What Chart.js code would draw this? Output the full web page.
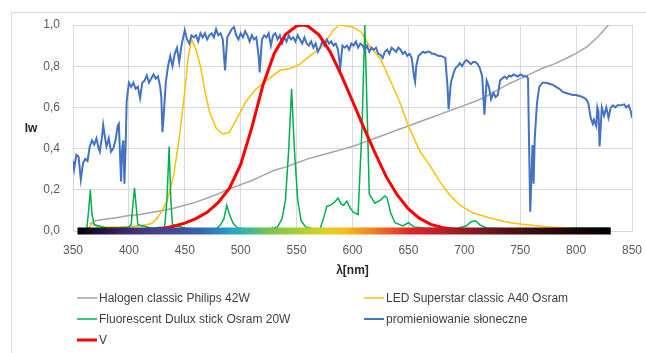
<!DOCTYPE html>
<html>
<head>
<meta charset="utf-8">
<script src="https://cdn.jsdelivr.net/npm/chart.js@4.4.1/dist/chart.umd.min.js"></script>
<style>
  html, body { margin: 0; padding: 0; background: #fff; overflow: hidden; }
  #wrap { position: relative; width: 646px; height: 353px; }
  #frame { position: absolute; left: 11px; top: 12px; width: 700px; height: 400px; border: 1px solid #d9d9d9; }
  #myChart { position: absolute; left: 0; top: 0; }
</style>
</head>
<body>
<div id="wrap">
  <div id="frame"></div>
  <canvas id="myChart" width="646" height="353"></canvas>
</div>
<script>
// wavelengths [nm] and relative intensities for each source
const halogenNm = [365, 370, 380, 390, 400, 410, 420, 430, 440, 450, 460, 470, 480, 490, 500, 510, 520, 530, 540, 550,
  560, 570, 580, 590, 600, 610, 620, 630, 640, 650, 660, 670, 680, 690, 700, 710, 720, 730, 740, 750,
  760, 770, 780, 790, 800, 810, 820, 829];
const halogenIw = [0.035, 0.05, 0.058, 0.066, 0.075, 0.08, 0.09, 0.1, 0.11, 0.125, 0.14, 0.16, 0.18, 0.205, 0.225, 0.245, 0.27, 0.295, 0.31, 0.33,
  0.35, 0.365, 0.38, 0.395, 0.41, 0.43, 0.45, 0.47, 0.49, 0.51, 0.53, 0.55, 0.57, 0.59, 0.61, 0.63, 0.655, 0.685, 0.715, 0.74,
  0.765, 0.79, 0.81, 0.835, 0.862, 0.895, 0.945, 1.0];

const ledNm = [360, 365, 368, 372, 380, 390, 400, 410, 415, 420, 425, 430, 435, 440, 445, 450, 453, 456, 460, 464,
  468, 472, 478, 484, 490, 497, 505, 513, 523, 535, 545, 553, 562, 574, 582, 588, 595, 600, 608, 615,
  625, 633, 642, 650, 660, 669, 678, 687, 696, 708, 723, 741, 750, 775, 800, 830];
const ledIw = [0.0, 0.02, 0.04, 0.02, 0.02, 0.02, 0.02, 0.025, 0.03, 0.035, 0.06, 0.1, 0.16, 0.27, 0.45, 0.68, 0.84, 0.93, 0.88, 0.8,
  0.68, 0.58, 0.5, 0.47, 0.48, 0.55, 0.63, 0.685, 0.73, 0.78, 0.79, 0.81, 0.85, 0.9, 0.97, 1.0, 0.995, 0.99, 0.965, 0.9,
  0.835, 0.74, 0.63, 0.51, 0.39, 0.32, 0.24, 0.175, 0.126, 0.087, 0.063, 0.04, 0.034, 0.02, 0.012, 0.01];

const fluoNm = [360, 362.5, 364, 365.5, 367, 369, 380, 390, 400, 402, 403.5, 405, 406.5, 408, 420, 432, 434, 436, 437.5, 439,
  450, 460, 470, 478, 482, 485, 487.5, 490, 493, 497, 505, 515, 525, 533, 537, 540, 543, 545.5, 548, 551,
  554, 558, 566, 571, 574, 577, 580, 584, 587, 590, 592, 595, 598, 601, 605, 608.5, 611, 613, 615, 620,
  625, 629, 631, 634, 638, 645, 650, 655, 665, 680, 695, 702, 706, 710, 714, 720, 740, 760, 780, 800, 830];
const fluoIw = [0.0, 0.02, 0.1, 0.2, 0.08, 0.03, 0.015, 0.015, 0.02, 0.03, 0.12, 0.21, 0.12, 0.03, 0.015, 0.02, 0.15, 0.41, 0.15, 0.03,
  0.015, 0.01, 0.01, 0.01, 0.03, 0.06, 0.125, 0.08, 0.04, 0.015, 0.01, 0.01, 0.01, 0.02, 0.06, 0.15, 0.4, 0.69, 0.4, 0.15,
  0.05, 0.02, 0.01, 0.01, 0.06, 0.12, 0.125, 0.14, 0.16, 0.13, 0.125, 0.145, 0.11, 0.09, 0.08, 0.5, 1.0, 0.6, 0.18, 0.135,
  0.15, 0.17, 0.16, 0.09, 0.04, 0.025, 0.04, 0.02, 0.015, 0.01, 0.015, 0.025, 0.045, 0.05, 0.03, 0.015, 0.01, 0.01, 0.01, 0.015, 0.015];

const sunNm = [350, 351, 353, 355, 357, 359, 361, 363, 365, 367, 369, 371, 373, 374, 376, 377, 379, 380, 382, 384,
  386, 388, 390, 391, 393, 394, 395, 396, 397, 398, 400, 402, 404, 406, 408, 410, 412, 414, 416, 418,
  420, 422, 424, 426, 428, 429, 430, 431, 433, 435, 437, 439, 441, 443, 445, 447, 449, 450, 452, 454,
  456, 458, 460, 462, 464, 466, 468, 470, 472, 474, 476, 478, 480, 482, 484, 486, 488, 490, 492, 494,
  496, 498, 500, 502, 504, 506, 508, 510, 512, 514, 516, 517, 519, 521, 523, 525, 527, 529, 531, 533,
  535, 537, 539, 541, 543, 545, 547, 549, 551, 553, 555, 557, 559, 561, 563, 565, 567, 569, 571, 573,
  575, 577, 579, 581, 583, 585, 587, 589, 591, 593, 595, 597, 599, 601, 603, 605, 607, 609, 611, 613,
  615, 617, 619, 621, 623, 625, 627, 629, 631, 633, 635, 637, 639, 641, 643, 645, 647, 649, 651, 653,
  655, 656, 657, 659, 661, 663, 665, 667, 669, 671, 673, 675, 677, 679, 681, 683, 685, 686, 688, 690,
  692, 694, 696, 698, 700, 702, 704, 706, 708, 710, 712, 714, 716, 718, 720, 722, 724, 726, 728, 730,
  732, 734, 736, 738, 740, 742, 744, 746, 748, 750, 752, 754, 756, 757, 758, 759, 760, 761, 762, 763,
  765, 767, 770, 773, 776, 779, 782, 785, 788, 791, 794, 797, 800, 803, 806, 809, 811, 813, 815, 816,
  818, 819, 820, 821, 823, 825, 827, 829, 831, 833, 835, 837, 840, 843, 845, 847, 849, 850];
const sunIw = [0.34, 0.3, 0.37, 0.36, 0.25, 0.33, 0.35, 0.34, 0.41, 0.44, 0.42, 0.45, 0.4, 0.385, 0.46, 0.515, 0.44, 0.41, 0.45, 0.385,
  0.4, 0.44, 0.51, 0.52, 0.24, 0.4, 0.44, 0.23, 0.4, 0.63, 0.72, 0.7, 0.72, 0.69, 0.7, 0.645, 0.72, 0.73, 0.755, 0.72,
  0.74, 0.76, 0.74, 0.75, 0.7, 0.65, 0.48, 0.55, 0.72, 0.8, 0.85, 0.8, 0.86, 0.89, 0.82, 0.9, 0.95, 0.975, 0.93, 0.91,
  0.95, 0.94, 0.95, 0.92, 0.96, 0.94, 0.96, 0.93, 0.95, 0.96, 0.94, 0.98, 0.95, 0.96, 0.93, 0.78, 0.94, 0.96, 0.98, 0.99,
  0.95, 0.93, 0.96, 0.94, 0.97, 0.95, 0.92, 0.95, 0.93, 0.94, 0.85, 0.77, 0.93, 0.95, 0.94, 0.96, 0.9, 0.95, 0.96, 0.93,
  0.95, 0.91, 0.94, 0.92, 0.95, 0.93, 0.94, 0.92, 0.95, 0.93, 0.91, 0.94, 0.91, 0.9, 0.92, 0.89, 0.91, 0.87, 0.89, 0.92,
  0.9, 0.93, 0.91, 0.92, 0.9, 0.91, 0.88, 0.79, 0.9, 0.89, 0.9, 0.88, 0.91, 0.9, 0.92, 0.89, 0.91, 0.9, 0.88, 0.9,
  0.87, 0.89, 0.88, 0.89, 0.86, 0.855, 0.84, 0.87, 0.88, 0.86, 0.89, 0.88, 0.87, 0.89, 0.88, 0.86, 0.87, 0.85, 0.86, 0.84,
  0.75, 0.725, 0.8, 0.85, 0.86, 0.87, 0.865, 0.87, 0.87, 0.86, 0.86, 0.855, 0.85, 0.85, 0.845, 0.84, 0.7, 0.59, 0.72, 0.76,
  0.79, 0.8, 0.815, 0.8, 0.82, 0.83, 0.82, 0.81, 0.82, 0.82, 0.81, 0.79, 0.75, 0.565, 0.73, 0.7, 0.64, 0.67, 0.65, 0.66,
  0.73, 0.74, 0.75, 0.74, 0.755, 0.75, 0.76, 0.755, 0.75, 0.76, 0.755, 0.75, 0.75, 0.74, 0.4, 0.094, 0.25, 0.417, 0.23, 0.45,
  0.62, 0.7, 0.72, 0.72, 0.715, 0.71, 0.7, 0.69, 0.675, 0.67, 0.665, 0.66, 0.66, 0.655, 0.65, 0.64, 0.62, 0.55, 0.52, 0.54,
  0.51, 0.6, 0.58, 0.41, 0.6, 0.56, 0.6, 0.55, 0.6, 0.61, 0.6, 0.61, 0.61, 0.615, 0.6, 0.61, 0.58, 0.55];

// photopic eye sensitivity V(λ)
const vNm = [425, 430, 440, 450, 460, 470, 480, 490, 500, 510, 520, 530, 540, 550, 555, 560, 570, 580, 590, 600,
  610, 620, 630, 640, 650, 660, 670, 680, 690, 700, 710];
const vIw = [0.008, 0.012, 0.023, 0.038, 0.06, 0.091, 0.139, 0.208, 0.323, 0.503, 0.71, 0.862, 0.954, 0.995, 1.0, 0.995, 0.952, 0.87, 0.757, 0.631,
  0.503, 0.381, 0.265, 0.175, 0.107, 0.061, 0.032, 0.017, 0.008, 0.004, 0.002];

// colour strip along the wavelength axis
const stripNm = [354, 831];
const stripIw = [0, 0];

const seriesNames = ['Halogen classic Philips 42W', 'LED Superstar classic A40 Osram',
  'Fluorescent Dulux stick Osram 20W', 'promieniowanie słoneczne', 'V'];
const xTicks = [350, 850, 50];
const yTicks = [0, 1, 0.2];

const spectrumStops = [
  [354, '#000000'], [370, '#1c1030'], [385, '#2e1c52'], [405, '#43307a'], [425, '#48408f'],
  [445, '#3c4f9f'], [465, '#3466b3'], [480, '#2b86c3'], [492, '#22a6c6'], [505, '#3ab5a0'],
  [520, '#67c25c'], [540, '#93c843'], [560, '#bcd033'], [580, '#e6cf22'], [595, '#f5b81c'],
  [615, '#f38a20'], [635, '#ec5126'], [652, '#e3232b'], [680, '#bd1d28'], [705, '#8c1a22'],
  [735, '#5a1118'], [770, '#300a0d'], [805, '#150405'], [831, '#000000']
];

const FONT = '"Liberation Sans", Arial, sans-serif';

function pts(xs, ys) {
  return xs.map((x, i) => ({ x: x, y: ys[i] }));
}

function stripGradient(context) {
  const chart = context.chart;
  if (!chart.chartArea) return '#000';
  const sx = chart.scales.x;
  const x0 = sx.getPixelForValue(stripNm[0]);
  const x1 = sx.getPixelForValue(stripNm[stripNm.length - 1]);
  const g = chart.ctx.createLinearGradient(x0, 0, x1, 0);
  spectrumStops.forEach(s => {
    g.addColorStop((s[0] - stripNm[0]) / (stripNm[stripNm.length - 1] - stripNm[0]), s[1]);
  });
  return g;
}

// axis titles (Iw is horizontal) and the two-column legend under the chart
const sheetDecor = {
  id: 'sheetDecor',
  afterDraw(chart) {
    const ctx = chart.ctx;
    const a = chart.chartArea;
    ctx.save();
    ctx.fillStyle = '#262626';
    ctx.font = 'bold 12px ' + FONT;
    ctx.textAlign = 'center';
    ctx.textBaseline = 'middle';
    ctx.fillText('Iw', 31, (a.top + a.bottom) / 2 + 1);
    ctx.fillText('λ[nm]', (a.left + a.right) / 2, a.bottom + 40);

    const cols = [77, 364];
    const rowY = 298, rowGap = 21;
    ctx.font = '12px ' + FONT;
    ctx.textAlign = 'left';
    ctx.fillStyle = '#404040';
    chart.data.datasets.filter(d => d.inLegend).forEach((d, i) => {
      const x = cols[i % 2];
      const y = rowY + Math.floor(i / 2) * rowGap;
      ctx.strokeStyle = d.borderColor;
      ctx.lineWidth = d.borderWidth;
      ctx.beginPath();
      ctx.moveTo(x, y);
      ctx.lineTo(x + 20, y);
      ctx.stroke();
      ctx.fillText(d.label, x + 22, y + 1);
    });
    ctx.restore();
  }
};

function line(label, data, color, width, order) {
  return {
    type: 'line', label: label, data: data, borderColor: color, borderWidth: width,
    pointRadius: 0, tension: 0, order: order, inLegend: true
  };
}

const ctx = document.getElementById('myChart').getContext('2d');
const myChart = new Chart(ctx, {
  type: 'line',
  data: {
    datasets: [
      line(seriesNames[0], pts(halogenNm, halogenIw), '#a5a5a5', 1.5, 5),
      line(seriesNames[1], pts(ledNm, ledIw), '#ffc000', 1.5, 4),
      line(seriesNames[2], pts(fluoNm, fluoIw), '#00b050', 1.5, 3),
      line(seriesNames[3], pts(sunNm, sunIw), '#4472c4', 2, 2),
      line(seriesNames[4], pts(vNm, vIw), '#ff0000', 3, 1),
      {
        type: 'line', label: 'spectrum', data: pts(stripNm, stripIw),
        borderColor: stripGradient, borderWidth: 7, borderCapStyle: 'butt',
        pointRadius: 0, order: 0, clip: false, inLegend: false
      }
    ]
  },
  options: {
    responsive: false,
    animation: false,
    events: [],
    layout: { padding: { top: 25, right: 14, left: 0, bottom: 0 } },
    plugins: { legend: { display: false }, tooltip: { enabled: false }, title: { display: false } },
    scales: {
      x: {
        type: 'linear', min: xTicks[0], max: xTicks[1],
        ticks: { stepSize: xTicks[2], padding: 12, color: '#595959', font: { family: FONT, size: 12 } },
        grid: { color: '#d9d9d9', drawTicks: false },
        border: { color: '#d9d9d9' },
        // fixed axis height; the edge labels fit inside the layout padding
        afterFit: s => { s.height = 122; s.paddingLeft = 0; s.paddingRight = 0; }
      },
      y: {
        min: yTicks[0], max: yTicks[1],
        ticks: {
          stepSize: yTicks[2], padding: 13, color: '#595959', font: { family: FONT, size: 12 },
          callback: v => v.toFixed(1).replace('.', ',')
        },
        grid: { color: '#d9d9d9', drawTicks: false },
        border: { color: '#d9d9d9' },
        afterFit: s => { s.width = 73; }
      }
    }
  },
  plugins: [sheetDecor]
});
</script>
</body>
</html>
